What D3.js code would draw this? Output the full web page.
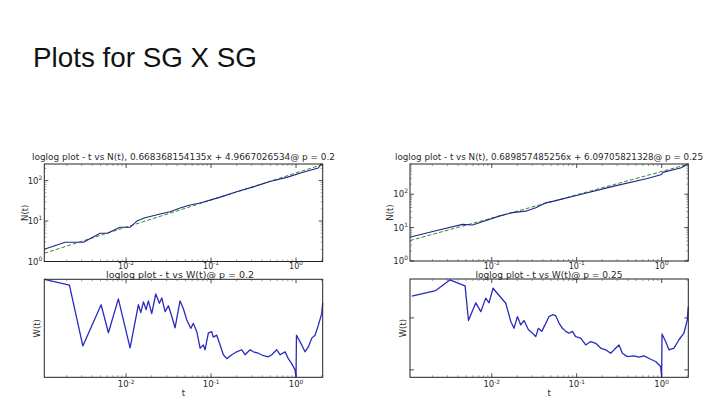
<!DOCTYPE html>
<html><head><meta charset="utf-8">
<script src="https://cdn.jsdelivr.net/npm/d3@7"></script>
<style>
html,body{margin:0;padding:0;background:#fff;}
svg{display:block;}
</style></head>
<body>
<svg id="c" width="720" height="405"></svg>
<script>
// ---------------- data ----------------
const slideTitle = "Plots for SG X SG";
const titleNLeft = "loglog plot - t vs N(t), 0.668368154135x + 4.9667026534@ p = 0.2";
const titleNRight = "loglog plot - t vs N(t), 0.689857485256x + 6.09705821328@ p = 0.25";
const titleWLeft = "loglog plot - t vs W(t)@ p = 0.2";
const titleWRight = "loglog plot - t vs W(t)@ p = 0.25";

const xTicks = [0.01, 0.1, 1];
const xTickExp = ["-2", "-1", "0"];
const nTicks = [1, 10, 100];
const nTickExp = ["0", "1", "2"];
const wRightTicks = [1, 10];

// N(t) left, p = 0.2
const tNLeft = [0.00109, 0.00191, 0.00315, 0.00495, 0.00603, 0.0085, 0.0111, 0.0134, 0.0167, 0.0251, 0.033, 0.0432, 0.0566, 0.0743, 0.128, 0.2, 0.315, 0.494, 0.778, 1.21, 1.83, 1.98, 2.06];
const nLeft  = [2, 3, 3, 5, 5, 7, 7, 10, 12, 15, 17, 21, 25, 28, 39, 53, 70, 95, 120, 160, 205, 255, 240];
const fitT = [0.00109, 2.06];
const fitLeft = [1.6, 250];

// N(t) right, p = 0.25
const tNRight = [0.00111, 0.00219, 0.00452, 0.00593, 0.00778, 0.0122, 0.0175, 0.0251, 0.033, 0.0432, 0.0536, 0.111, 0.275, 0.679, 1.0, 1.03, 1.67, 2.06];
const nRight  = [5.2, 8, 12.5, 12, 15, 22, 28, 31, 39, 55, 62, 98, 174, 295, 390, 450, 610, 800];
const fitRight = [4.1, 790];

// W(t) left, p = 0.2
const tWLeft = [0.001094, 0.002153, 0.003097, 0.005082, 0.006194, 0.008110, 0.01114, 0.01396, 0.01489, 0.01600, 0.01718, 0.01828, 0.02004, 0.02234, 0.02466, 0.02630, 0.02877, 0.03148, 0.03451, 0.03767, 0.04315, 0.04721, 0.05176, 0.05768, 0.06194, 0.06792, 0.07430, 0.08110, 0.08492, 0.09290, 0.1019, 0.1062, 0.1167, 0.1276, 0.1396, 0.1531, 0.1754, 0.2004, 0.2296, 0.2512, 0.2877, 0.3148, 0.3597, 0.4121, 0.4721, 0.5176, 0.5929, 0.6486, 0.7430, 0.8110, 0.8892, 0.9727, 1.0, 1.012, 1.167, 1.276, 1.396, 1.531, 1.675, 1.828, 2.004, 2.061];
const wLeft  = [10, 8.71, 2.09, 5.50, 2.85, 6.31, 2.00, 5.50, 4.57, 5.89, 4.90, 6.03, 4.47, 7.08, 5.69, 6.46, 4.68, 5.37, 4.17, 3.2, 6.03, 5.01, 3.85, 3.16, 3.55, 2.92, 1.98, 2.14, 1.91, 2.82, 2.92, 2.57, 2.69, 2.14, 1.70, 1.55, 1.70, 1.82, 1.91, 1.70, 1.91, 1.82, 1.76, 1.66, 1.62, 1.70, 1.91, 1.70, 1.82, 1.55, 1.38, 1.19, 1.01, 2.69, 2.14, 1.82, 2.04, 2.51, 2.69, 3.39, 4.47, 5.69];

// W(t) right, p = 0.25
const tWRight = [0.001145, 0.002193, 0.003206, 0.004853, 0.005321, 0.006486, 0.007430, 0.008492, 0.009290, 0.01035, 0.01462, 0.01675, 0.01828, 0.02004, 0.02193, 0.02399, 0.02704, 0.02958, 0.03296, 0.03540, 0.03873, 0.04236, 0.04721, 0.05176, 0.05662, 0.06194, 0.06792, 0.07430, 0.08110, 0.08892, 0.09727, 0.1114, 0.1276, 0.1462, 0.1675, 0.1914, 0.2193, 0.2512, 0.2748, 0.3148, 0.3451, 0.3945, 0.4721, 0.5408, 0.6194, 0.7430, 0.8492, 0.9727, 1.0, 1.01, 1.114, 1.219, 1.396, 1.600, 1.828, 2.004, 2.061];
const wRight  = [26.3, 33.5, 53.7, 41.2, 8.91, 19.5, 13.2, 24.0, 19.5, 37.2, 19.1, 8.51, 6.31, 10.6, 7.33, 8.91, 5.89, 5.25, 4.37, 6.31, 5.50, 7.33, 10.6, 11.5, 11.0, 7.94, 6.31, 5.50, 5.07, 5.50, 4.37, 4.07, 3.02, 3.51, 3.24, 2.63, 2.43, 2.09, 2.43, 3.02, 2.09, 1.80, 1.86, 1.76, 1.86, 1.60, 1.45, 1.16, 0.74, 4.90, 3.51, 2.43, 2.63, 3.80, 5.07, 9.12, 16.6];

// ---------------- drawing ----------------
const svg = d3.select("#c");
const FONT = "DejaVu Sans, sans-serif";
const TXT = "#2a2a2a";
const BLUE = "#2a2ac0";
const BLUE_N = "#23238f";
const GREEN = "#2f8f2f";

svg.append("text").attr("x", 33).attr("y", 67)
  .attr("font-family", "Liberation Sans, Arial, sans-serif").attr("font-size", 27.8)
  .attr("fill", "#111").text(slideTitle);

const xDomain = [0.00109, 2.06];

function panel(cfg) {
  const {x0, x1, y0, y1} = cfg.box;
  const xs = d3.scaleLog().domain(xDomain).range([x0, x1]);
  const ys = d3.scaleLog().domain(cfg.yDomain).range([y1, y0]);
  const g = svg.append("g");

  cfg.series.forEach(s => {
    const pts = s.t.map((t, i) => [t, s.v[i]]);
    const line = d3.line().x(d => xs(d[0])).y(d => ys(d[1]));
    g.append("path").attr("d", line(pts)).attr("fill", "none")
      .attr("stroke", s.color).attr("stroke-width", s.width || 1)
      .attr("stroke-dasharray", s.dash || null)
      .attr("stroke-linejoin", "round");
  });

  g.append("rect").attr("x", x0).attr("y", y0).attr("width", x1 - x0).attr("height", y1 - y0)
    .attr("fill", "none").attr("stroke", "#222").attr("stroke-width", 1);

  const xMinor = xs.ticks().filter(v => !xTicks.some(m => Math.abs(m - v) / m < 1e-6));
  xMinor.forEach(v => {
    const X = xs(v);
    g.append("line").attr("x1", X).attr("x2", X).attr("y1", y1).attr("y2", y1 - 2).attr("stroke", "#555").attr("stroke-width", 0.6);
    g.append("line").attr("x1", X).attr("x2", X).attr("y1", y0).attr("y2", y0 + 2).attr("stroke", "#555").attr("stroke-width", 0.6);
  });
  xTicks.forEach((v, i) => {
    const X = xs(v);
    g.append("line").attr("x1", X).attr("x2", X).attr("y1", y1).attr("y2", y1 - 4).attr("stroke", "#222").attr("stroke-width", 0.8);
    g.append("line").attr("x1", X).attr("x2", X).attr("y1", y0).attr("y2", y0 + 4).attr("stroke", "#222").attr("stroke-width", 0.8);
    const tx = g.append("text").attr("x", X).attr("y", y1 + cfg.xLabDy).attr("text-anchor", "middle")
      .attr("font-family", FONT).attr("font-size", cfg.xLabSize).attr("fill", TXT);
    tx.append("tspan").text("10");
    tx.append("tspan").attr("dy", -3.5).attr("font-size", 5.8).text(xTickExp[i]);
  });

  if (cfg.yMinor) {
    const yMinor = ys.ticks().filter(v => !cfg.yTicks.some(m => Math.abs(m - v) / m < 1e-6));
    yMinor.forEach(v => {
      const Y = ys(v);
      g.append("line").attr("x1", x0).attr("x2", x0 + 2).attr("y1", Y).attr("y2", Y).attr("stroke", "#555").attr("stroke-width", 0.6);
      g.append("line").attr("x1", x1).attr("x2", x1 - 2).attr("y1", Y).attr("y2", Y).attr("stroke", "#555").attr("stroke-width", 0.6);
    });
  }
  cfg.yTicks.forEach((v, i) => {
    const Y = ys(v);
    g.append("line").attr("x1", x0).attr("x2", x0 + 4).attr("y1", Y).attr("y2", Y).attr("stroke", "#222").attr("stroke-width", 0.8);
    g.append("line").attr("x1", x1).attr("x2", x1 - 4).attr("y1", Y).attr("y2", Y).attr("stroke", "#222").attr("stroke-width", 0.8);
    if (cfg.yTickExp) {
      const ty = g.append("text").attr("x", x0 - 2).attr("y", Y + 3).attr("text-anchor", "end")
        .attr("font-family", FONT).attr("font-size", 8.5).attr("fill", TXT);
      ty.append("tspan").text("10");
      ty.append("tspan").attr("dy", -4).attr("font-size", 6).text(cfg.yTickExp[i]);
    }
  });

  g.append("text").attr("x", cfg.title.cx).attr("y", cfg.title.y).attr("text-anchor", "middle")
    .attr("font-family", FONT).attr("font-size", cfg.title.size).attr("fill", TXT)
    .attr("textLength", cfg.title.w).attr("lengthAdjust", "spacingAndGlyphs")
    .text(cfg.title.text);

  g.append("text").attr("transform", `translate(${cfg.ylabel.x},${(y0 + y1) / 2}) rotate(-90)`)
    .attr("text-anchor", "middle").attr("font-family", FONT).attr("font-size", 8.5).attr("fill", TXT)
    .text(cfg.ylabel.text);

  if (cfg.xlabel) {
    g.append("text").attr("x", (x0 + x1) / 2).attr("y", y1 + 19).attr("text-anchor", "middle")
      .attr("font-family", FONT).attr("font-size", 8.5).attr("fill", TXT).text(cfg.xlabel);
  }
}

const LB = {x0: 44.3, x1: 322.7};
const RB = {x0: 410, x1: 688.3};

panel({
  box: {...LB, y0: 164, y1: 261.5}, yDomain: [1, 257],
  yTicks: nTicks, yTickExp: nTickExp, yMinor: true, xLabDy: 7.3, xLabSize: 8,
  series: [
    {t: fitT, v: fitLeft, color: GREEN, dash: "4,2", width: 1},
    {t: tNLeft, v: nLeft, color: BLUE_N, width: 1.1}
  ],
  title: {text: titleNLeft, cx: 183.5, y: 160, w: 303, size: 9},
  ylabel: {text: "N(t)", x: 28}
});
panel({
  box: {...RB, y0: 164, y1: 261}, yDomain: [1, 800],
  yTicks: nTicks, yTickExp: nTickExp, yMinor: true, xLabDy: 7.6, xLabSize: 8,
  series: [
    {t: fitT, v: fitRight, color: GREEN, dash: "4,2", width: 1},
    {t: tNRight, v: nRight, color: BLUE_N, width: 1.1}
  ],
  title: {text: titleNRight, cx: 549, y: 160, w: 308, size: 9},
  ylabel: {text: "N(t)", x: 393}
});
panel({
  box: {...LB, y0: 279.3, y1: 377.3}, yDomain: [1, 10],
  yTicks: [], yMinor: false, xLabDy: 10, xLabSize: 8.5,
  series: [{t: tWLeft, v: wLeft, color: BLUE, width: 1.3}],
  title: {text: titleWLeft, cx: 180, y: 278.3, w: 148, size: 8.5},
  ylabel: {text: "W(t)", x: 40},
  xlabel: "t"
});
panel({
  box: {...RB, y0: 279, y1: 377.3}, yDomain: [0.72, 56],
  yTicks: wRightTicks, yMinor: false, xLabDy: 10, xLabSize: 8.5,
  series: [{t: tWRight, v: wRight, color: BLUE, width: 1.3}],
  title: {text: titleWRight, cx: 549, y: 278.3, w: 147, size: 8.5},
  ylabel: {text: "W(t)", x: 406},
  xlabel: "t"
});
</script>
</body></html>
